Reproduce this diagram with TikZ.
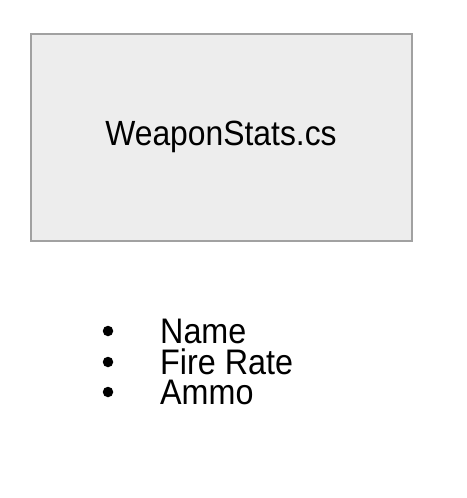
\documentclass[tikz,border=0pt]{standalone}
\usepackage{fontspec}
\setmainfont{Liberation Sans}
\newfontfamily\narrowsans[FakeStretch=0.91]{Liberation Sans}
\usetikzlibrary{positioning}
\colorlet{boxgray}{black!37}
\colorlet{boxfill}{black!7}
\tikzset{
  classbox/.style={draw=boxgray,fill=boxfill,line width=2pt,
                   minimum width=381pt,minimum height=207pt,inner sep=0pt,
                   font=\narrowsans\fontsize{35}{35}\selectfont},
  itemdot/.style={circle,fill=black,inner sep=0pt,minimum size=10.5pt},
  itemtext/.style={anchor=base west,inner sep=0pt,
                   font=\narrowsans\fontsize{35.5}{35.5}\selectfont}
}
\begin{document}
\begin{tikzpicture}[x=1pt,y=-1pt]
  \useasboundingbox (0,0) rectangle (466,498);
  \node[classbox] (stats) at (221,137) {WeaponStats.cs};

  \node[itemdot] (dotname) at (108,331) {};
  \node[itemdot] (dotrate) at (108,362) {};
  \node[itemdot] (dotammo) at (108,392) {};
  \node[itemtext] (name) at (160,343) {Name};
  \node[itemtext] (rate) at (160,374) {Fire Rate};
  \node[itemtext] (ammo) at (160,404) {Ammo};
\end{tikzpicture}
\end{document}
